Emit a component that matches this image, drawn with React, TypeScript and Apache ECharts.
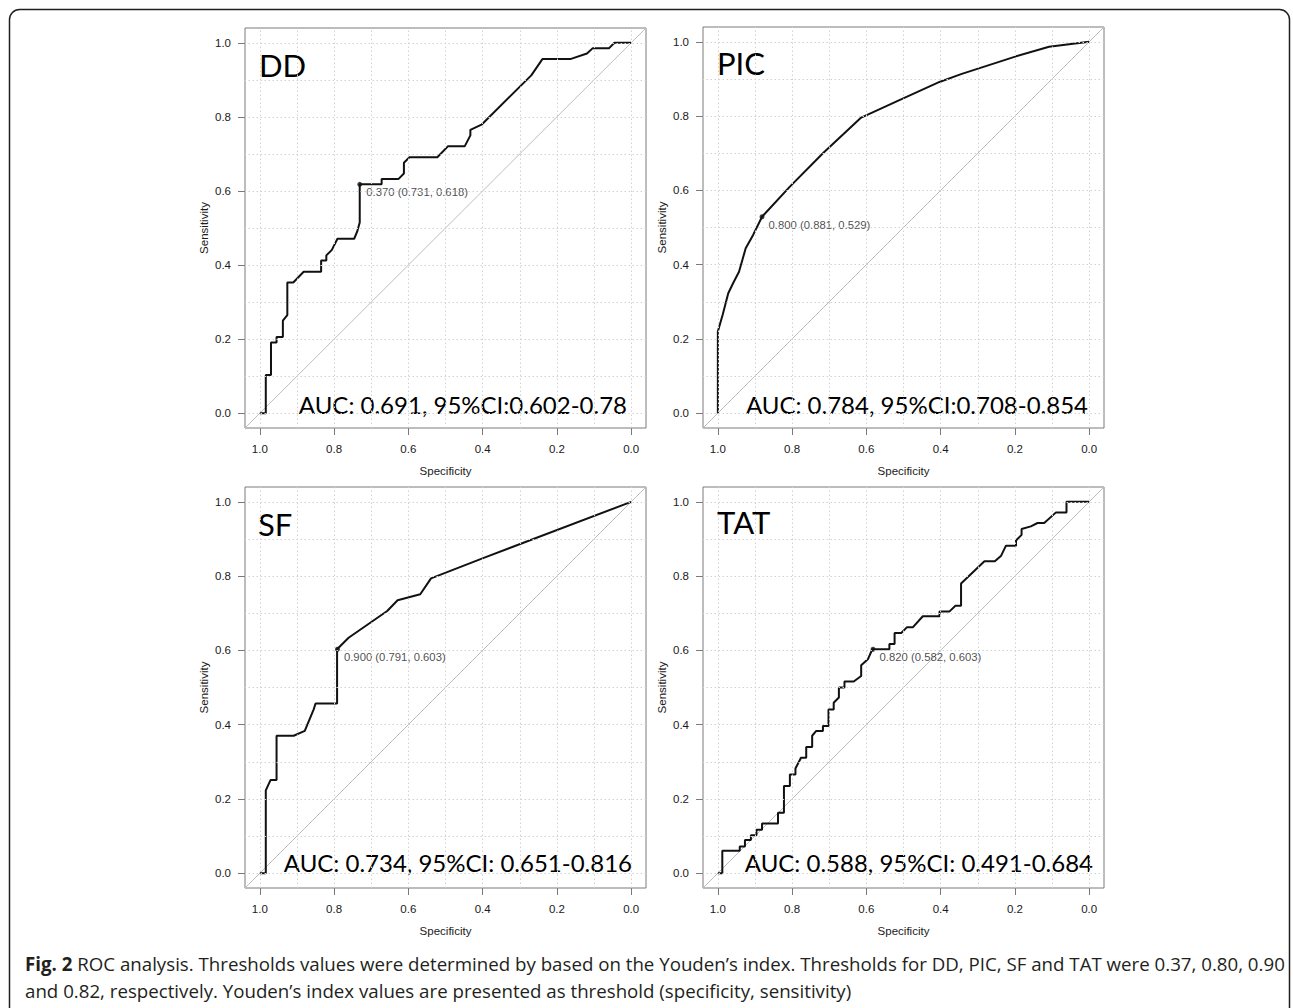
import React, { useEffect, useRef } from "react";
import * as echarts from "echarts";

// ---------- data ----------
const panelNames = ["DD", "PIC", "SF", "TAT"];
const aucLabels = [
  "AUC: 0.691, 95%CI:0.602-0.78",
  "AUC: 0.784, 95%CI:0.708-0.854",
  "AUC: 0.734, 95%CI: 0.651-0.816",
  "AUC: 0.588, 95%CI: 0.491-0.684",
];
const cutoffLabels = [
  "0.370 (0.731, 0.618)",
  "0.800 (0.881, 0.529)",
  "0.900 (0.791, 0.603)",
  "0.820 (0.582, 0.603)",
];
const cutoffSpecificity = [0.731, 0.881, 0.791, 0.582];
const cutoffSensitivity = [0.618, 0.529, 0.603, 0.603];

const tickValues = [0, 0.2, 0.4, 0.6, 0.8, 1.0];
const gridValues = [0, 0.1, 0.2, 0.3, 0.4, 0.5, 0.6, 0.7, 0.8, 0.9, 1.0];

const ddSpecificity = [1.0, 0.984, 0.984, 0.970, 0.970, 0.955, 0.955, 0.938, 0.938, 0.926, 0.926, 0.910, 0.882, 0.835, 0.835, 0.821, 0.821, 0.806, 0.791, 0.746, 0.738, 0.731, 0.731, 0.672, 0.672, 0.627, 0.612, 0.612, 0.597, 0.522, 0.493, 0.448, 0.433, 0.433, 0.403, 0.269, 0.239, 0.164, 0.119, 0.104, 0.060, 0.045, 0.0];
const ddSensitivity = [0.0, 0.0, 0.103, 0.103, 0.191, 0.191, 0.206, 0.206, 0.250, 0.265, 0.353, 0.353, 0.382, 0.382, 0.412, 0.412, 0.426, 0.441, 0.471, 0.471, 0.490, 0.515, 0.618, 0.618, 0.632, 0.632, 0.647, 0.676, 0.691, 0.691, 0.721, 0.721, 0.750, 0.765, 0.779, 0.912, 0.956, 0.956, 0.971, 0.985, 0.985, 1.0, 1.0];

const picSpecificity = [1.0, 1.0, 0.987, 0.972, 0.959, 0.943, 0.925, 0.905, 0.881, 0.806, 0.717, 0.614, 0.511, 0.403, 0.345, 0.197, 0.108, 0.0];
const picSensitivity = [0.0, 0.220, 0.265, 0.323, 0.350, 0.381, 0.444, 0.480, 0.529, 0.610, 0.700, 0.796, 0.843, 0.892, 0.913, 0.961, 0.987, 1.0];

const sfSpecificity = [1.0, 0.984, 0.984, 0.971, 0.955, 0.955, 0.909, 0.879, 0.855, 0.850, 0.792, 0.792, 0.761, 0.657, 0.629, 0.568, 0.539, 0.397, 0.0];
const sfSensitivity = [0.0, 0.0, 0.223, 0.251, 0.251, 0.370, 0.370, 0.383, 0.441, 0.457, 0.457, 0.603, 0.634, 0.706, 0.735, 0.751, 0.794, 0.849, 1.0];

const tatSpecificity = [1.0, 0.988, 0.988, 0.941, 0.941, 0.927, 0.927, 0.911, 0.911, 0.896, 0.896, 0.881, 0.881, 0.838, 0.838, 0.822, 0.822, 0.806, 0.806, 0.791, 0.791, 0.777, 0.777, 0.762, 0.762, 0.746, 0.746, 0.735, 0.717, 0.717, 0.702, 0.702, 0.688, 0.688, 0.674, 0.674, 0.659, 0.659, 0.634, 0.614, 0.614, 0.596, 0.584, 0.538, 0.538, 0.524, 0.524, 0.506, 0.491, 0.475, 0.448, 0.403, 0.403, 0.376, 0.360, 0.345, 0.345, 0.282, 0.254, 0.237, 0.224, 0.197, 0.197, 0.182, 0.182, 0.157, 0.139, 0.121, 0.090, 0.061, 0.061, 0.0];
const tatSensitivity = [0.0, 0.0, 0.060, 0.060, 0.072, 0.072, 0.089, 0.089, 0.102, 0.102, 0.117, 0.117, 0.134, 0.134, 0.163, 0.163, 0.235, 0.235, 0.266, 0.266, 0.282, 0.309, 0.311, 0.311, 0.340, 0.340, 0.370, 0.383, 0.383, 0.396, 0.396, 0.441, 0.441, 0.459, 0.473, 0.500, 0.500, 0.516, 0.516, 0.531, 0.560, 0.576, 0.603, 0.603, 0.617, 0.617, 0.647, 0.647, 0.662, 0.662, 0.692, 0.692, 0.705, 0.705, 0.720, 0.720, 0.780, 0.840, 0.840, 0.855, 0.882, 0.882, 0.896, 0.911, 0.927, 0.934, 0.943, 0.943, 0.971, 0.971, 1.0, 1.0];

const curveSpecificity = [ddSpecificity, picSpecificity, sfSpecificity, tatSpecificity];
const curveSensitivity = [ddSensitivity, picSensitivity, sfSensitivity, tatSensitivity];

const captionBold = "Fig. 2";
const captionLine1 =
  " ROC analysis. Thresholds values were determined by based on the Youden\u2019s index. Thresholds for DD, PIC, SF and TAT were 0.37, 0.80, 0.90";
const captionLine2 =
  "and 0.82, respectively. Youden\u2019s index values are presented as threshold (specificity, sensitivity)";

// ---------- layout / style ----------
const AXIS_MIN = -0.04;
const AXIS_MAX = 1.04;
const gridBoxes = [
  { left: 245, top: 28, width: 401, height: 400 },
  { left: 703, top: 27, width: 401, height: 401 },
  { left: 245, top: 487, width: 401, height: 401 },
  { left: 703, top: 487, width: 401, height: 401 },
];
const nameBoxes = [
  { x: 259, y: 65 },
  { x: 717, y: 63 },
  { x: 258, y: 524 },
  { x: 717, y: 522 },
];
const aucBoxes = [
  { x: 627, y: 404 },
  { x: 1088, y: 404 },
  { x: 632, y: 862 },
  { x: 1093, y: 862 },
];

const SANS = "'Liberation Sans', Arial, Helvetica, sans-serif";
const LABEL_FONT = "Lato, 'Open Sans', sans-serif";
const CAPTION_FONT = "'Open Sans', sans-serif";
const CAPTION_SIZE = 18.7;

export default function App() {
  const ref = useRef<HTMLDivElement>(null);

  useEffect(() => {
    document.body.style.margin = "0";
    const chart = echarts.init(ref.current!, null, { renderer: "svg" });

    const grid = gridBoxes.map((g) => ({
      ...g,
      show: true,
      borderColor: "#7a7a7a",
      borderWidth: 1,
      backgroundColor: "transparent",
    }));

    const xAxis = gridBoxes.map((_, i) => ({
      type: "value",
      gridIndex: i,
      min: AXIS_MIN,
      max: AXIS_MAX,
      inverse: true,
      position: "bottom",
      axisLine: { show: false, onZero: false },
      axisTick: {
        show: true,
        customValues: tickValues,
        length: 7,
        lineStyle: { color: "#7a7a7a", width: 1 },
      },
      axisLabel: {
        customValues: tickValues,
        formatter: (v: number) => v.toFixed(1),
        margin: 15,
        color: "#1a1a1a",
        fontSize: 11.5,
        fontFamily: SANS,
      },
      splitLine: { show: false },
      name: "Specificity",
      nameLocation: "middle",
      nameGap: 37,
      nameTextStyle: { color: "#1a1a1a", fontSize: 11.5, fontFamily: SANS },
    }));

    const yAxis = gridBoxes.map((_, i) => ({
      type: "value",
      gridIndex: i,
      min: AXIS_MIN,
      max: AXIS_MAX,
      position: "left",
      axisLine: { show: false, onZero: false },
      axisTick: {
        show: true,
        customValues: tickValues,
        length: 7,
        lineStyle: { color: "#7a7a7a", width: 1 },
      },
      axisLabel: {
        customValues: tickValues,
        formatter: (v: number) => v.toFixed(1),
        margin: 14,
        color: "#1a1a1a",
        fontSize: 11.5,
        fontFamily: SANS,
      },
      splitLine: { show: false },
      name: "Sensitivity",
      nameLocation: "middle",
      nameGap: 35,
      nameTextStyle: { color: "#1a1a1a", fontSize: 11.5, fontFamily: SANS },
    }));

    const series: any[] = [];
    gridBoxes.forEach((_, i) => {
      // dotted reference grid
      series.push({
        type: "line",
        xAxisIndex: i,
        yAxisIndex: i,
        data: [],
        silent: true,
        z: 1,
        markLine: {
          silent: true,
          symbol: ["none", "none"],
          label: { show: false },
          lineStyle: { color: "#d2d2d2", type: [1.5, 2.5], width: 1 },
          data: [
            ...gridValues.map((v) => ({ xAxis: v })),
            ...gridValues.map((v) => ({ yAxis: v })),
          ],
        },
      });
      // chance diagonal
      series.push({
        type: "line",
        xAxisIndex: i,
        yAxisIndex: i,
        data: [
          [AXIS_MAX, AXIS_MIN],
          [AXIS_MIN, AXIS_MAX],
        ],
        symbol: "none",
        silent: true,
        z: 2,
        lineStyle: { color: "#bdbdbd", width: 1 },
      });
      // ROC curve
      series.push({
        type: "line",
        xAxisIndex: i,
        yAxisIndex: i,
        data: curveSpecificity[i].map((s, k) => [s, curveSensitivity[i][k]]),
        symbol: "none",
        z: 3,
        lineStyle: { color: "#111", width: 2 },
      });
      // Youden point
      series.push({
        type: "scatter",
        xAxisIndex: i,
        yAxisIndex: i,
        data: [[cutoffSpecificity[i], cutoffSensitivity[i]]],
        symbolSize: 5,
        z: 4,
        itemStyle: { color: "#111" },
        label: {
          show: true,
          formatter: cutoffLabels[i],
          position: "right",
          distance: 4,
          offset: [0, 8],
          color: "#1a1a1a",
          fontSize: 11.3,
          fontFamily: SANS,
        },
      });
    });

    const graphic: any[] = [
      {
        type: "rect",
        shape: { x: 9.5, y: 9.5, width: 1280, height: 1020, r: 10 },
        style: { fill: "none", stroke: "#231f20", lineWidth: 1.5 },
        silent: true,
      },
    ];
    nameBoxes.forEach((p, i) => {
      graphic.push({
        type: "text",
        x: p.x,
        y: p.y,
        style: {
          text: panelNames[i],
          fill: "#000",
          font: `31px ${LABEL_FONT}`,
          textAlign: "left",
          textVerticalAlign: "middle",
        },
      });
    });
    aucBoxes.forEach((p, i) => {
      graphic.push({
        type: "text",
        x: p.x,
        y: p.y,
        style: {
          text: aucLabels[i],
          fill: "#000",
          font: `24px ${LABEL_FONT}`,
          textAlign: "right",
          textVerticalAlign: "middle",
        },
      });
    });
    graphic.push({
      type: "text",
      x: 25,
      y: 963,
      style: {
        text: `{b|${captionBold}}${captionLine1}`,
        fill: "#231f20",
        font: `${CAPTION_SIZE}px ${CAPTION_FONT}`,
        textAlign: "left",
        textVerticalAlign: "middle",
        rich: {
          b: {
            fontWeight: "bold",
            fontSize: CAPTION_SIZE,
            fontFamily: CAPTION_FONT,
            fill: "#231f20",
            color: "#231f20",
          },
        },
      },
    });
    graphic.push({
      type: "text",
      x: 25,
      y: 990,
      style: {
        text: captionLine2,
        fill: "#231f20",
        font: `${CAPTION_SIZE}px ${CAPTION_FONT}`,
        textAlign: "left",
        textVerticalAlign: "middle",
      },
    });

    chart.setOption({
      animation: false,
      backgroundColor: "#fff",
      grid,
      xAxis,
      yAxis,
      series,
      graphic,
    });

    return () => chart.dispose();
  }, []);

  return <div ref={ref} style={{ width: 1293, height: 1008 }} />;
}
